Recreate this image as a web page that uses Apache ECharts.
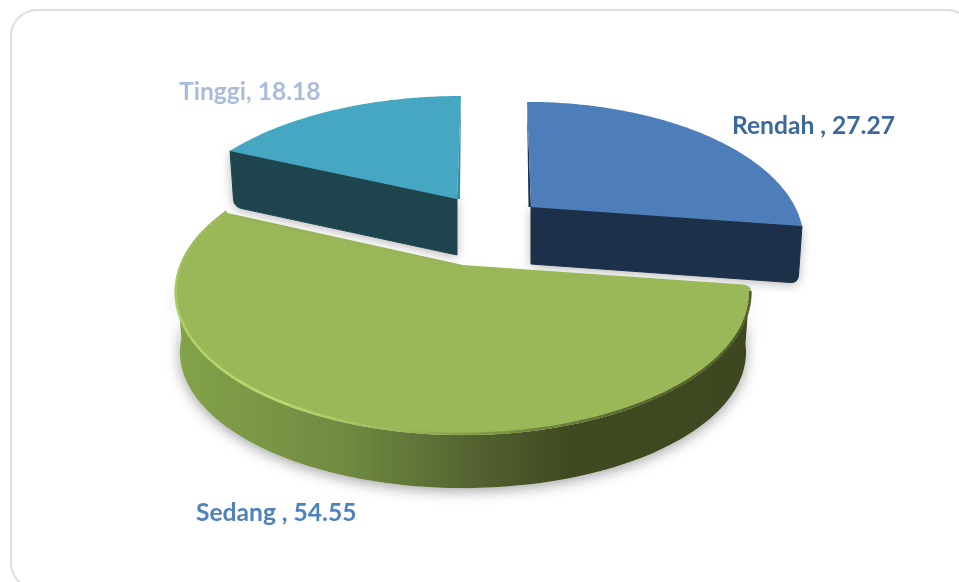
<!DOCTYPE html>
<html><head><meta charset="utf-8">
<style>html,body{margin:0;padding:0;background:#fff}#c{width:959px;height:582px}</style>
<script src="https://cdn.jsdelivr.net/npm/echarts@6/dist/echarts.min.js"></script>
</head><body><div id="c"></div>
<script>
var categories = ['Rendah ', 'Sedang ', 'Tinggi'];
var seriesValues = [27.27, 54.55, 18.18];
var labelText = ['Rendah , 27.27', 'Sedang , 54.55', 'Tinggi, 18.18'];

// drawing style, kept apart from the data
var looks = [
  {ax:531, ay:207, sx:0.94, sy:1, k:0.233, shear:4, depth:57, taper:-4, sliver:-2.5, top:'#4d7eb9', edge:'#1d3049', lab:'#3d689b', lx:732, ly:126},
  {ax:463, ay:265, sx:1.002, sy:1.05, k:0.2, shear:0, depth:60, taper:0, sliver:0, top:'#9bb859', edge:'#6d8340', lab:'#4f81bd', lx:196, ly:513},
  {ax:457, ay:199, sx:0.981, sy:0.98, k:0.233, shear:-4, depth:56, taper:4, sliver:3, top:'#46a7c2', edge:'#3a8ba3', lab:'#aabcdc', lx:179, ly:92}
];
var R = 281, A = 129.6;
// rim colour of the big slice by angle, degrees clockwise from the far side
var bevelStops = [[98,[78,92,42]],[150,[84,100,46]],[172,[120,142,66]],[188,[150,178,88]],
                  [212,[184,220,112]],[250,[172,208,102]],[280,[155,184,89]],[294.5,[155,184,89]]];

function project(look, t) {
  var u = Math.sin(t), v = -Math.cos(t), s = 1 / (1 - look.k * v);
  return [look.ax + R * look.sx * u * s + look.shear * v, look.ay + A * look.sy * v * s];
}
function arc(look, a, b) {
  var pts = [], n = 120;
  for (var i = 0; i <= n; i++) pts.push(project(look, a + (b - a) * i / n));
  return pts;
}
function bend(p0, c, p2) {
  var out = [];
  for (var i = 0; i <= 8; i++) {
    var t = i / 8, m = 1 - t;
    out.push([m*m*p0[0] + 2*m*t*c[0] + t*t*p2[0], m*m*p0[1] + 2*m*t*c[1] + t*t*p2[1]]);
  }
  return out;
}
function toward(p, q, r) {
  var dx = q[0]-p[0], dy = q[1]-p[1], l = Math.sqrt(dx*dx+dy*dy);
  return [p[0]+dx/l*r, p[1]+dy/l*r];
}
function bevelColor(deg) {
  for (var i = 1; i < bevelStops.length; i++) {
    if (deg <= bevelStops[i][0]) {
      var s0 = bevelStops[i-1], s1 = bevelStops[i], f = (deg - s0[0]) / (s1[0] - s0[0]);
      return 'rgb(' + [0,1,2].map(function (j) { return Math.round(s0[1][j] + (s1[1][j]-s0[1][j])*f); }).join(',') + ')';
    }
  }
  return 'rgb(155,184,89)';
}

var total = seriesValues.reduce(function (s, v) { return s + v; }, 0);
var starts = [];
seriesValues.reduce(function (s, v, i) { starts[i] = s; return s + v; }, 0);

function renderItem(params, api) {
  var i = params.dataIndex, look = looks[i], val = api.value(1);
  var a = starts[i] / total * 2 * Math.PI, b = a + val / total * 2 * Math.PI;
  var apex = [look.ax, look.ay], rim = arc(look, a, b), d = look.depth, kids = [];

  if (i === 1) {
    var tEnd = 264 * Math.PI / 180;
    var under = {}; for (var key in look) under[key] = look[key];
    under.sx = look.sx * 0.985; under.ay = look.ay + d; under.sy = 1.007;
    var wallTop = arc(look, a, tEnd), wallBottom = arc(under, a, tEnd).reverse();
    var wall = wallTop.concat(wallBottom);
    kids.push({type:'polygon', shape:{points:wall},
      style:{fill:'#fff', shadowBlur:14, shadowColor:'rgba(0,0,0,0.36)', shadowOffsetY:3}});
    kids.push({type:'polygon', shape:{points:wall},
      style:{fill:new echarts.graphic.LinearGradient(0,0,1,0,[
        {offset:0,color:'#83a34a'},{offset:0.30,color:'#708a41'},{offset:0.52,color:'#536230'},
        {offset:0.68,color:'#404a21'},{offset:1,color:'#3e4820'}])}});
    // top face, right corner rounded
    var trimmed = arc(look, a + 0.05, b);
    var topFace = [apex].concat(bend(toward(rim[0], apex, 7), rim[0], trimmed[0])).concat(trimmed);
    kids.push({type:'polygon', shape:{points:topFace}, style:{fill:look.top}});
    // soft bevel following the rim
    for (var j = 0; j < trimmed.length - 1; j += 1) {
      var deg = (a + 0.05 + (b - a - 0.05) * (j + 0.5) / 120) * 180 / Math.PI;
      var col = bevelColor(deg);
      kids.push({type:'line', shape:{x1:trimmed[j][0], y1:trimmed[j][1]-1.2, x2:trimmed[j+1][0], y2:trimmed[j+1][1]-1.2},
        style:{stroke:col, lineWidth:2.6, lineCap:'butt'}});
    }
  } else {
    var side = i === 0 ? '#1d3049' : '#1e444e';
    var e = i === 0 ? rim[rim.length - 1] : rim[0];
    var far = i === 0 ? rim[0] : rim[rim.length - 1];
    var qa = [apex[0], apex[1] + d], qe = [e[0] + look.taper, e[1] + d];
    var cut = [apex, e].concat(bend(toward(qe, e, 8), qe, toward(qe, qa, 8))).concat([qa]);
    kids.push({type:'polygon', shape:{points:cut},
      style:{fill:'#fff', shadowBlur:11, shadowColor:'rgba(0,0,0,0.30)', shadowOffsetY:2}});
    kids.push({type:'polygon', shape:{points:cut}, style:{fill:side, stroke:side, lineWidth:1, lineJoin:'round'}});
    kids.push({type:'polygon', shape:{points:[far, apex, [apex[0] + look.sliver, apex[1]]]}, style:{fill:look.edge}});
    kids.push({type:'polygon', shape:{points:[apex].concat(rim)}, style:{fill:look.top}});
  }
  kids.push({type:'text', style:{text:labelText[i], x:look.lx, y:look.ly, verticalAlign:'middle',
    font:'bold 24.6px Lato, "Noto Sans", sans-serif', fill:look.lab}});
  return {type:'group', children:kids};
}

var chart = echarts.init(document.getElementById('c'), null, {renderer:'canvas'});
chart.setOption({
  animation:false,
  backgroundColor:'#ffffff',
  graphic:[{type:'rect', shape:{x:11,y:10,width:962,height:579,r:26},
    style:{fill:'#fff', stroke:'#dedede', lineWidth:2}, z:-1}],
  series:[{
    type:'custom', coordinateSystem:'none', renderItem:renderItem,
    data: categories.map(function (c, i) { return [c, seriesValues[i]]; })
  }]
});
</script></body></html>
